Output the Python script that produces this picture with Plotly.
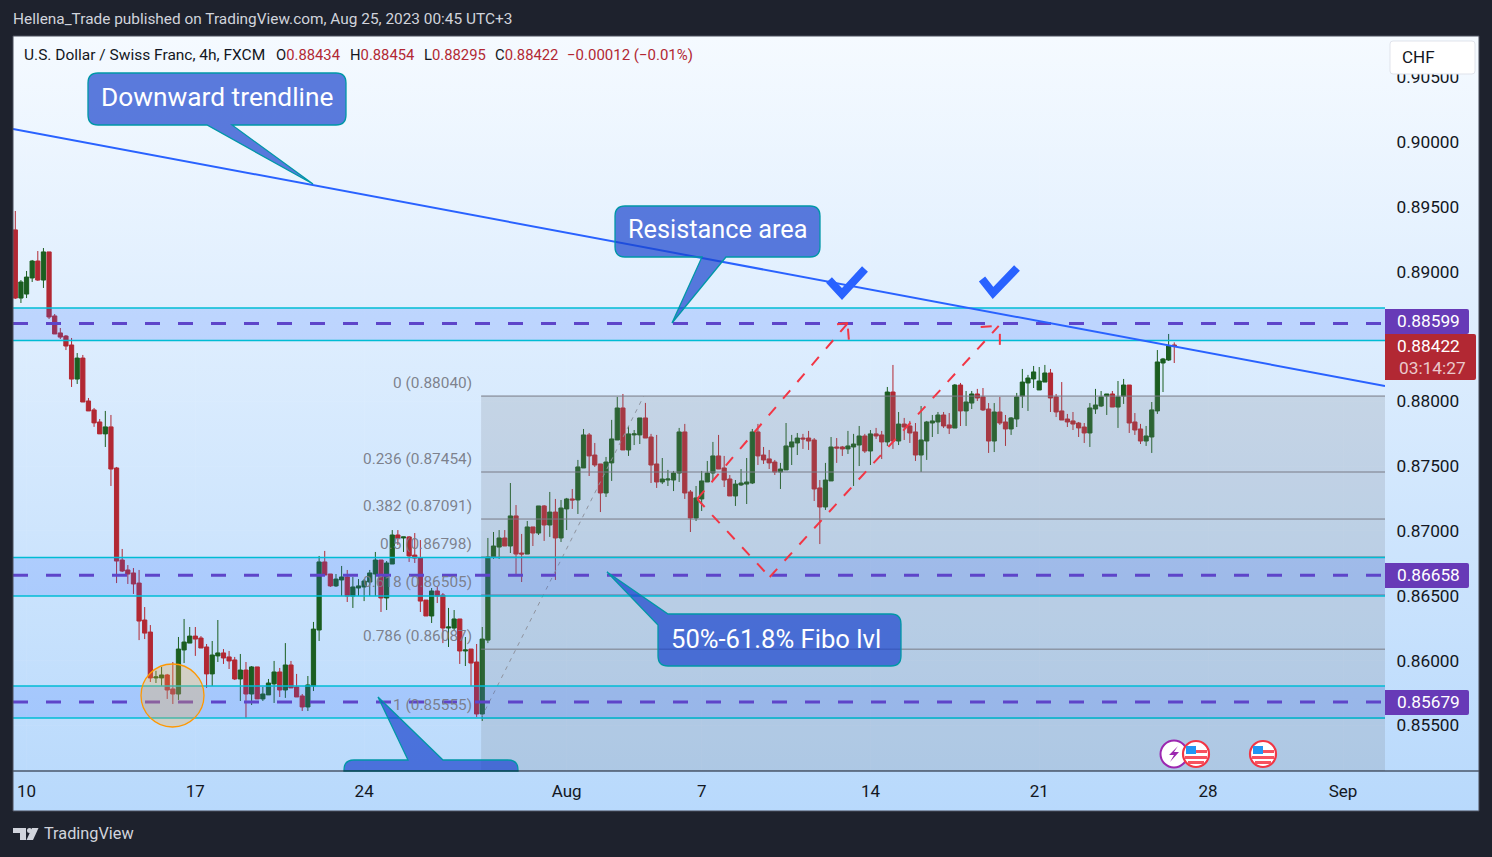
import base64
import plotly.graph_objects as go

# ---- data: FX points (price x 100000) ----
opens_pts = [
 89322,88796,88827,88951,89082,88935,89152,88658,88527,88503,
 88434,88171,88333,88002,87933,87840,87748,87802,87485,86775,
 86698,86675,86597,86312,86219,85865,85865,85888,85780,85741,
 86081,86134,86188,86173,86104,85896,86035,86058,86027,86004,
 85857,85926,85741,85950,85703,85734,85819,85911,85772,85965,
 85795,85726,85641,85803,86235,86760,86667,86575,86621,86644,
 86497,86559,86567,86605,86667,86775,86482,86744,86968,86945,
 86953,86813,86790,86466,86343,86536,86505,86250,86250,86320,
 86073,86088,85988,85587,86157,86798,86875,86945,86883,87115,
 86829,86821,87030,86983,87192,87045,87145,86945,87169,87246,
 87238,87485,87740,87585,87516,87292,87524,87701,87948,87624,
 87740,87740,87871,87724,87516,87377,87392,87392,87446,87763,
 87300,87099,87246,87377,87446,87578,87485,87400,87269,87354,
 87361,87369,87763,87585,87555,87531,87454,87470,87647,87678,
 87716,87716,87701,87331,87184,87385,87647,87647,87632,87647,
 87662,87732,87616,87748,87740,87686,88071,87693,87824,87809,
 87763,87585,87693,87832,87840,87894,87817,87793,88125,87925,
 87986,88056,88033,87940,87693,87917,87840,87786,87863,88040,
 88141,88172,88087,88148,88218,88033,87925,87863,87848,87832,
 87801,87755,87940,87963,88040,88056,87955,88040,88125,87840,
 87786,87693,87724,87925,88295,88318,88434]
highs_pts = [
 89468,88935,89005,89090,89159,89182,89152,88673,88565,88511,
 88488,88372,88357,88025,87948,87863,87925,87894,87493,86860,
 86736,86713,86698,86412,86273,85920,85950,85896,85988,86181,
 86320,86258,86258,86188,86127,86150,86312,86088,86073,86027,
 86050,85988,85957,85950,85795,85857,85996,85942,86134,85996,
 85896,85741,85880,86297,86806,86845,86667,86667,86729,86698,
 86644,86628,86628,86698,86837,86775,86767,87006,87006,86953,
 86960,86983,86929,86466,86559,86567,86520,86405,86389,86320,
 86181,86088,86127,86258,86945,86991,87006,87006,87369,87199,
 86976,87076,87030,87192,87199,87300,87246,87238,87254,87323,
 87547,87786,87755,87678,87516,87570,87856,88033,88056,87809,
 87778,87871,87987,87748,87740,87562,87470,87462,87794,87825,
 87315,87346,87462,87539,87686,87740,87578,87431,87392,87477,
 87562,87786,87825,87647,87624,87547,87524,87832,87740,87755,
 87748,87771,87716,87392,87524,87724,87716,87655,87771,87748,
 87809,87748,87778,87794,87771,88110,88280,87917,87871,87848,
 87832,87963,87848,87894,87917,87917,87909,88133,88141,88079,
 88079,88095,88102,87986,87986,88033,87894,87878,88064,88249,
 88203,88272,88264,88280,88249,88056,88148,87902,87917,87840,
 87832,87986,88095,88079,88056,88079,88156,88172,88125,87909,
 87825,87809,87994,88395,88334,88519,88454]
lows_pts = [
 88789,88758,88796,88920,88928,88874,88634,88519,88480,88395,
 88110,88133,87994,87925,87802,87748,87647,87346,86597,86682,
 86590,86513,86157,86165,85834,85826,85803,85703,85664,85695,
 85980,86134,86035,86096,85788,85803,85988,85973,85934,85849,
 85687,85556,85656,85703,85687,85734,85672,85718,85711,85788,
 85718,85610,85610,85764,86150,86659,86567,86567,86497,86451,
 86405,86497,86458,86497,86497,86374,86389,86744,86891,86837,
 86760,86752,86374,86343,86289,86443,86134,86104,86235,85973,
 85957,85803,85564,85533,86134,86783,86783,86883,86829,86659,
 86605,86821,86883,86968,86922,86953,86621,86914,87006,87169,
 87130,87485,87423,87493,87145,87261,87385,87701,87624,87578,
 87662,87670,87716,87369,87331,87361,87346,87307,87377,87246,
 86991,87076,87153,87377,87385,87477,87338,87269,87192,87346,
 87207,87361,87508,87516,87477,87431,87323,87470,87508,87585,
 87632,87624,87230,86898,87161,87385,87524,87578,87593,87346,
 87500,87601,87508,87709,87554,87655,87632,87662,87701,87678,
 87539,87454,87547,87724,87747,87793,87747,87793,87809,87809,
 87940,88002,87925,87601,87608,87817,87655,87740,87801,87948,
 87925,88102,88087,88148,87917,87878,87855,87801,87778,87724,
 87678,87647,87902,87955,87894,87955,87794,87979,87755,87740,
 87670,87655,87601,87902,88071,88311,88295]
closes_pts = [
 88796,88920,88958,89082,88935,89152,88650,88519,88495,88426,
 88171,88333,87994,87925,87833,87748,87802,87477,86767,86690,
 86667,86590,86304,86211,85865,85873,85888,85772,85741,86088,
 86142,86188,86165,86096,85896,86042,86058,86019,85996,85857,
 85926,85741,85950,85703,85741,85826,85911,85772,85965,85788,
 85718,85641,85811,86242,86760,86659,86575,86628,86644,86497,
 86567,86575,86613,86675,86775,86482,86752,86968,86945,86953,
 86806,86790,86458,86343,86536,86497,86250,86258,86320,86073,
 86081,85980,85587,86165,86798,86883,86945,86883,87115,86821,
 86821,87030,86983,87192,87045,87145,86945,87176,87246,87238,
 87493,87740,87578,87508,87292,87531,87709,87948,87624,87748,
 87748,87871,87716,87508,87377,87400,87400,87446,87763,87292,
 87099,87254,87385,87446,87578,87477,87392,87269,87361,87369,
 87377,87763,87578,87547,87524,87454,87477,87655,87686,87716,
 87709,87693,87323,87184,87392,87647,87639,87632,87655,87670,
 87732,87616,87748,87732,87686,88071,87693,87824,87801,87755,
 87585,87701,87840,87848,87894,87809,87793,88125,87925,87994,
 88056,88025,87933,87693,87917,87832,87786,87871,88033,88148,
 88179,88226,88156,88218,88025,87917,87855,87840,87824,87794,
 87755,87948,87971,88033,88056,87955,88033,88125,87832,87778,
 87693,87732,87933,88303,88326,88426,88422]

price_ticks = [0.905,0.90,0.895,0.89,0.88,0.875,0.87,0.865,0.86,0.855]
date_ticks = [2,32,62,98,122,152,182,212,236]
date_labels = ["10","17","24","Aug","7","14","21","28","Sep"]

zones = [(0.88719,0.88469,0.88599),(0.86794,0.86497,0.86658),(0.85803,0.85556,0.85679)]
fib_levels = [("0",0.88040),("0.236",0.87454),("0.382",0.87091),("0.5",0.86798),
              ("0.618",0.86505),("0.786",0.86087),("1",0.85555)]
# drawn tools, in (bar index, price)
trend_line = [(-0.41,0.90101),(243.46,0.88118)]
fib_diagonal = [(82.8,0.85555),(111.7,0.88040)]
red_paths = [
 [(121.2,0.87246),(148.0,0.88604),(145.3,0.88590)],
 [(148.0,0.88560),(148.2,0.88457)],
 [(121.2,0.87246),(134.1,0.86644),(174.8,0.88581)],
 [(171.6,0.88573),(174.8,0.88581)],
 [(175.0,0.88520),(175.0,0.88434)],
]

FONT = "Roboto"
XR = [-0.41, 243.46]
YR = [0.85147, 0.90818]
L, R, T, B = 13, 1385, 36, 771
W, H = 1492, 857

def fx(x): return (x-L)/(R-L)
def fy(y): return (B-y)/(B-T)
def pt(x,y): return f"{fx(x):.5f} {fy(y):.5f}"

bars = list(range(len(opens_pts)))
fig = go.Figure(go.Candlestick(
    x=bars,
    open=[v/1e5 for v in opens_pts], high=[v/1e5 for v in highs_pts],
    low=[v/1e5 for v in lows_pts], close=[v/1e5 for v in closes_pts],
    increasing=dict(line=dict(color="#1b5e20",width=1),fillcolor="#1b5e20"),
    decreasing=dict(line=dict(color="#b22833",width=1),fillcolor="#b22833"),
    whiskerwidth=0, hoverinfo="skip", showlegend=False))

shapes=[]
def data_line(a,b,color,width,dash="solid"):
    shapes.append(dict(type="line",xref="x",yref="y",x0=a[0],y0=a[1],x1=b[0],y1=b[1],
                       line=dict(color=color,width=width,dash=dash),layer="above"))
def px_path(path,fill=None,color=None,width=1):
    shapes.append(dict(type="path",xref="paper",yref="paper",path=path,
        fillcolor=fill or "rgba(0,0,0,0)",
        line=dict(color=color or "rgba(0,0,0,0)",width=width if color else 0),layer="above"))
def px_rect(x0,y0,x1,y1,fill,color=None,width=1):
    px_path(f"M{pt(x0,y0)} L{pt(x1,y0)} L{pt(x1,y1)} L{pt(x0,y1)} Z",fill,color,width)
def px_circle(cx,cy,r,fill,color=None,width=1):
    shapes.append(dict(type="circle",xref="paper",yref="paper",x0=fx(cx-r),x1=fx(cx+r),
        y0=fy(cy+r),y1=fy(cy-r),fillcolor=fill,
        line=dict(color=color or "rgba(0,0,0,0)",width=width if color else 0),layer="above"))

# fib block (runs down to the chart bottom)
shapes.append(dict(type="rect",xref="x",yref="y",x0=82.8,x1=XR[1],y0=fib_levels[0][1],y1=YR[0],
    fillcolor="rgba(120,123,134,0.20)",line=dict(width=0),layer="above"))
for _,lv in fib_levels:
    data_line((82.8,lv),(XR[1],lv),"#787b86",1)
data_line(fib_diagonal[0],fib_diagonal[1],"#8f939e",1,"4px,5px")

# zones
for top,bot,mid in zones:
    shapes.append(dict(type="rect",xref="x",yref="y",x0=XR[0],x1=XR[1],y0=bot,y1=top,
        fillcolor="rgba(41,98,255,0.18)",line=dict(width=0),layer="above"))
    data_line((XR[0],top),(XR[1],top),"#00bcd4",1.4)
    data_line((XR[0],bot),(XR[1],bot),"#00bcd4",1.4)
    data_line((XR[0],mid),(XR[1],mid),"#5e45c9",3,"15px,18px")

# red dashed projections
for p in red_paths:
    for a,b in zip(p[:-1],p[1:]):
        data_line(a,b,"#f23645",2,"11px,11px")
# trendline
data_line(trend_line[0],trend_line[1],"#2962ff",2)

# circle on the low
px_circle(172.5,695.5,31.5,"rgba(255,170,50,0.27)","#ff9800",1.3)

# check marks
for (a,b,c) in [((829,280),(842,294),(865,269)),((982,279),(993,293),(1017,268))]:
    px_path(f"M{pt(*a)} L{pt(*b)} L{pt(*c)}",None,"#2962ff",8)

# callouts
CF="rgba(26,69,205,0.70)"; CB="#0097a7"
def box_path(x0,y0,x1,y1,r=10,top=None,bottom=None):
    s=f"M{pt(x0+r,y0)} "
    if top: s+=" ".join("L"+pt(*q) for q in top)+" "
    s+=f"L{pt(x1-r,y0)} Q{pt(x1,y0)} {pt(x1,y0+r)} L{pt(x1,y1-r)} Q{pt(x1,y1)} {pt(x1-r,y1)} "
    if bottom: s+=" ".join("L"+pt(*q) for q in bottom)+" "
    s+=f"L{pt(x0+r,y1)} Q{pt(x0,y1)} {pt(x0,y1-r)} L{pt(x0,y0+r)} Q{pt(x0,y0)} {pt(x0+r,y0)} Z"
    return s
px_path(box_path(88,73,346,125,bottom=[(232,125),(313,184),(207,125)]),CF,CB,1.3)
px_path(box_path(615,206,820,257,bottom=[(726,257),(672,323),(702,257)]),CF,CB,1.3)
# fibo callout: tail joins the cut top-left corner
px_path(f"M{pt(668,614)} L{pt(891,614)} Q{pt(901,614)} {pt(901,624)} L{pt(901,656)} Q{pt(901,666)} {pt(891,666)} "
        f"L{pt(668,666)} Q{pt(658,666)} {pt(658,656)} L{pt(658,625)} L{pt(607,572)} Z",CF,CB,1.3)
# clipped callout at the bottom
px_path(f"M{pt(344,771)} L{pt(344,770)} Q{pt(344,760)} {pt(354,760)} L{pt(408,760)} L{pt(378,697)} L{pt(443,760)} "
        f"L{pt(508,760)} Q{pt(518,760)} {pt(518,770)} L{pt(518,771)} Z",CF,CB,1.3)

# bottom axis rule and panel frame
px_rect(13,771,1479,771.01,"#131722","#131722",1.2)
px_rect(13,36,1479,811,None,"#4a4f5c",1)

# price badges
def badge(y0,y1,x1,fill):
    px_path(f"M{pt(1385,y0)} L{pt(x1-2,y0)} Q{pt(x1,y0)} {pt(x1,y0+2)} L{pt(x1,y1-2)} Q{pt(x1,y1)} {pt(x1-2,y1)} L{pt(1385,y1)} Z",fill)
badge(309,334,1469,"#673ab7"); badge(563,588,1469,"#673ab7"); badge(690,715,1469,"#673ab7")
badge(334,380,1476,"#b22833")

# CHF button
px_path(box_path(1390,41,1475,74,r=3),"#ffffff","#e0e3eb",1)

# event icons
def flag(cx,cy):
    px_circle(cx,cy,13,"#ffffff","#f23645",2.2)
    px_path(f"M{pt(cx-10,cy-8)} L{pt(cx,cy-8)} L{pt(cx,cy)} L{pt(cx-10,cy)} Z","#2196f3")
    px_rect(cx,cy-4,cx+11,cy-1,"#f7525f")
    px_rect(cx-11,cy+2,cx+11,cy+5,"#f7525f")
    px_rect(cx-8,cy+7,cx+8,cy+10,"#f7525f")
px_circle(1174,754,13.5,"#ffffff","#9c27b0",2)
px_path(f"M{pt(1178,746)} L{pt(1169,755)} L{pt(1174,755)} L{pt(1170,762)} L{pt(1179,752)} L{pt(1174,752)} Z","#9c27b0")
flag(1196,754); flag(1263,754)

# TradingView mark
px_path(f"M{pt(13,828)} L{pt(26,828)} L{pt(26,840)} L{pt(20,840)} L{pt(20,833)} L{pt(13,833)} Z","#d1d4dc")
px_circle(29.5,830.5,2.5,"#d1d4dc")
px_path(f"M{pt(32,828)} L{pt(38.5,828)} L{pt(33,840)} L{pt(26.5,840)} Z","#d1d4dc")

# ---- text ----
ann=[]
def text(x,y,s,size=14,color="#131722",anchor="left"):
    ann.append(dict(xref="paper",yref="paper",x=fx(x),y=fy(y),text=s,showarrow=False,
        xanchor=anchor,yanchor="middle",borderpad=0,
        font=dict(family=FONT,size=size,color=color)))
text(12,19.5,"Hellena_Trade published on TradingView.com, Aug 25, 2023 00:45 UTC+3",15.4,"#d1d4dc")
text(23,54.5,"U.S. Dollar / Swiss Franc, 4h, FXCM",15.5,"#131722")
REDT="#b22833"
def ohlc(x,letter,val): text(x,54.5,f'<span style="color:#131722">{letter}</span><span style="color:{REDT}">{val}</span>',14.8)
ohlc(275,"O","0.88434"); ohlc(349,"H","0.88454"); ohlc(423,"L","0.88295"); ohlc(494,"C","0.88422")
text(566,54.5,"−0.00012 (−0.01%)",15.0,REDT)
text(217,96.5,"Downward trendline",26.3,"#ffffff","center")
text(717.5,229.5,"Resistance area",25.3,"#ffffff","center")
text(776,638.5,"50%-61.8% Fibo lvl",25.6,"#ffffff","center")
text(1418,57,"CHF",17,"#131722","center")
GR="rgba(120,123,134,0.95)"
for (name,lv),ly in zip(fib_levels,[382.5,458.5,505.5,543.5,581.5,635.5,704.5]):
    text(472.5,ly,f"{name} ({lv:.5f})",15.4,GR,"right")
WT="#ffffff"
text(1428.5,321,"0.88599",17.3,WT,"center"); text(1428.5,575,"0.86658",17.3,WT,"center"); text(1428.5,702,"0.85679",17.3,WT,"center")
text(1428.5,346,"0.88422",17.3,WT,"center"); text(1432,368,"03:14:27",17.3,"rgba(255,255,255,0.75)","center")
text(43,834,"TradingView",16.3,"#d1d4dc")

svg=('<svg xmlns="http://www.w3.org/2000/svg" width="10" height="100" preserveAspectRatio="none">'
     '<defs><linearGradient id="g" x1="0" y1="0" x2="0" y2="1"><stop offset="0" stop-color="#f5faff"/>'
     '<stop offset="1" stop-color="#b8d9fc"/></linearGradient></defs><rect width="10" height="100" fill="url(#g)"/></svg>')
bg="data:image/svg+xml;base64,"+base64.b64encode(svg.encode()).decode()

fig.update_layout(
    width=W,height=H,autosize=False,
    margin=dict(l=L,r=W-R,t=T,b=H-B,pad=0),
    paper_bgcolor="#1e222d",plot_bgcolor="rgba(0,0,0,0)",
    boxgap=0.25,boxgroupgap=0,showlegend=False,hovermode=False,dragmode=False,
    font=dict(family=FONT,color="#131722"),
    shapes=shapes,annotations=ann,
    images=[dict(source=bg,xref="paper",yref="paper",x=0,y=1,sizex=(1479-13)/(R-L),sizey=(811-36)/(B-T),
                 sizing="stretch",xanchor="left",yanchor="top",layer="below")],
    xaxis=dict(range=XR,tickmode="array",tickvals=date_ticks,ticktext=date_labels,
        tickfont=dict(family=FONT,size=17,color="#131722"),ticks="outside",ticklen=5,tickcolor="rgba(0,0,0,0)",
        showgrid=True,gridcolor="rgba(255,255,255,0.05)",zeroline=False,showline=False,rangeslider=dict(visible=False),fixedrange=True),
    yaxis=dict(range=YR,side="right",tickmode="array",tickvals=price_ticks,tickformat=".5f",
        tickfont=dict(family=FONT,size=17.3,color="#131722"),ticks="outside",ticklen=7,tickcolor="rgba(0,0,0,0)",
        showgrid=True,gridcolor="rgba(255,255,255,0.05)",zeroline=False,showline=False,fixedrange=True),
)
fig.write_html("out.html",config=dict(displayModeBar=False,staticPlot=True),
               post_script="document.body.style.margin='0';document.documentElement.style.overflow='hidden';")
